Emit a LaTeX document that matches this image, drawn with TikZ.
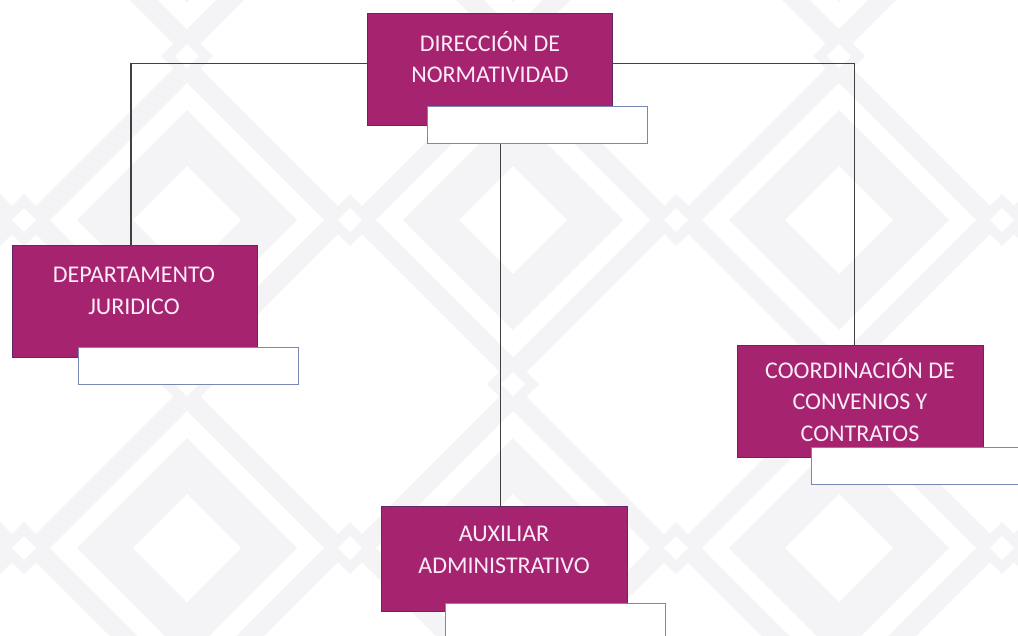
\documentclass[tikz,border=0pt]{standalone}
\usepackage{fontspec}
\setmainfont{Carlito}
\definecolor{mag}{RGB}{166,35,112}
\definecolor{magline}{RGB}{100,40,105}
\definecolor{wline}{RGB}{120,135,180}
\definecolor{connc}{RGB}{65,65,65}
\definecolor{bgg}{RGB}{244,244,246}
\definecolor{txt}{RGB}{252,236,248}
\newcommand\dmd[4]{\fill[#4] (#1-#3,#2) -- (#1,#2-#3) -- (#1+#3,#2) -- (#1,#2+#3) -- cycle;}
\begin{document}
\begin{tikzpicture}[x=1pt,y=-1pt,
  magbox/.style={rectangle, fill=mag, draw=magline, line width=0.9pt, inner sep=0pt, anchor=north west, minimum width=245pt, minimum height=112pt},
  whitebox/.style={rectangle, fill=white, draw=wline, line width=0.9pt, inner sep=0pt, anchor=north west, minimum width=220pt, minimum height=37pt},
  lbl/.style={text=txt, align=center, inner sep=0pt, font=\fontsize{24}{31.5}\selectfont},
  conn/.style={draw=connc, line width=1.7pt}]
\useasboundingbox (0,0) rectangle (1018,635);
\clip (0,0) rectangle (1018,635);
% faint background pattern
\fill[white] (0,0) rectangle (1018,635);
\foreach \i in {-1,...,3}{
  \foreach \j in {-1,...,2}{
    \pgfmathsetmacro\cx{187+326*\i}
    \pgfmathsetmacro\cy{220+328*\j}
    \dmd{\cx}{\cy}{165}{bgg}
    \dmd{\cx}{\cy}{137}{white}
    \dmd{\cx}{\cy}{110}{bgg}
    \dmd{\cx}{\cy}{54}{white}
  }
}
\foreach \i in {-1,...,3}{
  \foreach \j in {-1,...,2}{
    \pgfmathsetmacro\ax{350+326*\i}
    \pgfmathsetmacro\ay{220+328*\j}
    \dmd{\ax}{\ay}{26}{bgg}
    \dmd{\ax}{\ay}{12}{white}
    \pgfmathsetmacro\bx{187+326*\i}
    \pgfmathsetmacro\by{56+328*\j}
    \dmd{\bx}{\by}{26}{bgg}
    \dmd{\bx}{\by}{12}{white}
  }
}
% boxes
\node[magbox] (dir) at (367,13) {};
\node[magbox] (dep) at (12,245) {};
\node[magbox, minimum width=246pt] (coo) at (737,345) {};
\node[magbox, minimum width=246pt, minimum height=105pt] (aux) at (381,506) {};
% connectors
\draw[conn] ([yshift=6pt]dir.west) -| ([xshift=-4pt]dep.north);
\draw[conn] ([yshift=6pt]dir.east) -| ([xshift=-6pt]coo.north);
% white boxes
\node[whitebox] (dirw) at (427,106) {};
\node[whitebox] (depw) at (78,347) {};
\node[whitebox] (coow) at (811,447) {};
\node[whitebox] (auxw) at (445,603) {};
\draw[conn] ([xshift=-4pt]aux.north) -- ([xshift=-4pt]aux.north |- dirw.south);
% labels
\node[lbl] (dirt) at (490,57) {DIRECCIÓN DE\\NORMATIVIDAD};
\node[lbl] (dept) at (134,291) {DEPARTAMENTO\\JURIDICO};
\node[lbl] (coot) at (860,400) {COORDINACIÓN DE\\CONVENIOS Y\\CONTRATOS};
\node[lbl] (auxt) at (504,550) {AUXILIAR\\ADMINISTRATIVO};
\end{tikzpicture}
\end{document}
